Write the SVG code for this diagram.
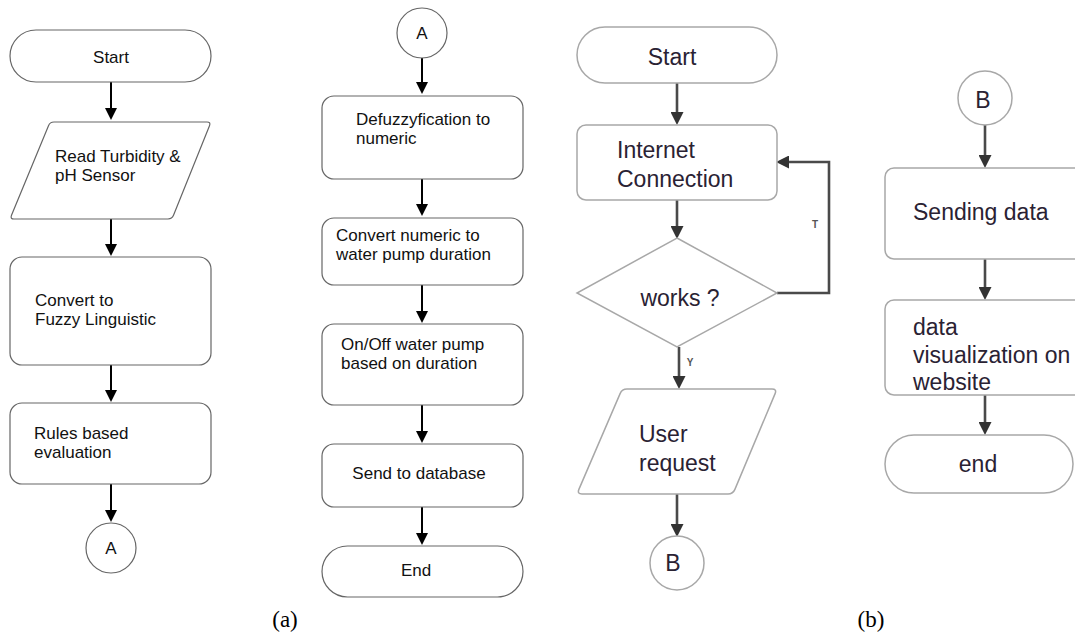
<svg xmlns="http://www.w3.org/2000/svg" width="1075" height="637" viewBox="0 0 1075 637">
<defs>
<style>
.na{fill:#fff;stroke:#666;stroke-width:1.2}
.nb{fill:#fff;stroke:#a8a8a8;stroke-width:1.5}
.ta{font-family:"Liberation Sans",Arial,sans-serif;font-size:17px;fill:#111}
.tb{font-family:"Liberation Sans",Arial,sans-serif;font-size:23px;fill:#2a2233}
.ca{stroke:#000;stroke-width:2;fill:none}
.cb{stroke:#4a4a4a;stroke-width:2.6;fill:none}
.lb{font-family:"Liberation Sans",Arial,sans-serif;font-size:10px;fill:#555;font-weight:bold}
.cap{font-family:"Liberation Serif","Times New Roman",serif;font-size:23px;fill:#000}
</style>
<marker id="ma" markerUnits="userSpaceOnUse" markerWidth="12" markerHeight="12" refX="6" refY="6" orient="auto">
<path d="M0,0 L12,6 L0,12 z" fill="#000"/>
</marker>
<marker id="mb" markerUnits="userSpaceOnUse" markerWidth="13" markerHeight="13" refX="6" refY="6.5" orient="auto">
<path d="M0,0 L13,6.5 L0,13 z" fill="#333"/>
</marker>
</defs>
<rect width="1075" height="637" fill="#fff"/>

<g id="connectors">
<line class="ca" x1="111" y1="82" x2="111" y2="114" marker-end="url(#ma)"/>
<line class="ca" x1="111" y1="219" x2="111" y2="250" marker-end="url(#ma)"/>
<line class="ca" x1="111" y1="365" x2="111" y2="396" marker-end="url(#ma)"/>
<line class="ca" x1="111" y1="484" x2="111" y2="516" marker-end="url(#ma)"/>
<line class="ca" x1="422" y1="57" x2="422" y2="88" marker-end="url(#ma)"/>
<line class="ca" x1="422" y1="179" x2="422" y2="210" marker-end="url(#ma)"/>
<line class="ca" x1="422" y1="285" x2="422" y2="317" marker-end="url(#ma)"/>
<line class="ca" x1="422" y1="405" x2="422" y2="437" marker-end="url(#ma)"/>
<line class="ca" x1="422" y1="507" x2="422" y2="539" marker-end="url(#ma)"/>
<line class="cb" x1="677" y1="83" x2="677" y2="118" marker-end="url(#mb)"/>
<line class="cb" x1="677" y1="200" x2="677" y2="232" marker-end="url(#mb)"/>
<polyline class="cb" points="777,293 829,293 829,162 783,162" marker-end="url(#mb)"/>
<text class="lb" x="815" y="228" text-anchor="middle">T</text>
<line class="cb" x1="679" y1="347" x2="679" y2="382" marker-end="url(#mb)"/>
<text class="lb" x="690" y="366" text-anchor="middle">Y</text>
<line class="cb" x1="677" y1="494" x2="677" y2="530" marker-end="url(#mb)"/>
<line class="cb" x1="985" y1="125" x2="985" y2="161" marker-end="url(#mb)"/>
<line class="cb" x1="985" y1="259" x2="985" y2="293" marker-end="url(#mb)"/>
<line class="cb" x1="985" y1="395" x2="985" y2="428" marker-end="url(#mb)"/>
</g>

<g id="a-start"><rect class="na" x="10" y="30" width="201" height="52" rx="26"/><text class="ta" x="111" y="63" text-anchor="middle">Start</text></g>
<g id="a-read"><path class="na" d="M54,122 L207,122 Q211,122 209.5,125.7 L173.5,215.3 Q172,219 168,219 L14,219 Q10,219 11.5,215.3 L48.5,125.7 Q50,122 54,122 Z"/><text class="ta" x="55" y="162">Read Turbidity &amp;</text><text class="ta" x="55" y="181">pH Sensor</text></g>
<g id="a-convert"><rect class="na" x="10" y="257" width="201" height="108" rx="12"/><text class="ta" x="35" y="306">Convert to</text><text class="ta" x="35" y="325">Fuzzy Linguistic</text></g>
<g id="a-rules"><rect class="na" x="10" y="403" width="201" height="81" rx="12"/><text class="ta" x="34" y="439">Rules based</text><text class="ta" x="34" y="458">evaluation</text></g>
<g id="a-conA"><circle class="na" cx="111" cy="548" r="25"/><text class="ta" x="111" y="554" text-anchor="middle">A</text></g>

<g id="a-conA2"><circle class="na" cx="422" cy="33" r="25"/><text class="ta" x="422" y="39" text-anchor="middle">A</text></g>
<g id="a-defuzz"><rect class="na" x="322" y="96" width="201" height="83" rx="12"/><text class="ta" x="356" y="125">Defuzzyfication to</text><text class="ta" x="356" y="144">numeric</text></g>
<g id="a-convnum"><rect class="na" x="322" y="218" width="201" height="67" rx="12"/><text class="ta" x="336" y="241">Convert numeric to</text><text class="ta" x="336" y="260">water pump duration</text></g>
<g id="a-onoff"><rect class="na" x="322" y="324" width="201" height="81" rx="12"/><text class="ta" x="341" y="350">On/Off water pump</text><text class="ta" x="341" y="369">based on duration</text></g>
<g id="a-send"><rect class="na" x="322" y="444" width="201" height="63" rx="12"/><text class="ta" x="419" y="479" text-anchor="middle">Send to database</text></g>
<g id="a-end"><rect class="na" x="322" y="546" width="201" height="51" rx="25.5"/><text class="ta" x="416" y="576" text-anchor="middle">End</text></g>

<g id="b-start"><rect class="nb" x="577" y="27" width="200" height="56" rx="28"/><text class="tb" x="672" y="65" text-anchor="middle">Start</text></g>
<g id="b-internet"><rect class="nb" x="577" y="125" width="200" height="75" rx="9"/><text class="tb" x="617" y="158">Internet</text><text class="tb" x="617" y="187">Connection</text></g>
<g id="b-works"><path class="nb" d="M677,238 L777,293 L677,347 L577,293 Z"/><text class="tb" x="680" y="306" text-anchor="middle">works ?</text></g>
<g id="b-user"><path class="nb" d="M627,389 L772,389 Q777,389 775.1,393.6 L734.9,489.4 Q733,494 728,494 L582,494 Q577,494 578.9,489.4 L620.1,393.6 Q622,389 627,389 Z"/><text class="tb" x="639" y="442">User</text><text class="tb" x="639" y="471">request</text></g>
<g id="b-conB"><circle class="nb" cx="677" cy="563" r="27"/><text class="tb" x="673" y="571" text-anchor="middle">B</text></g>

<g id="b-conB2"><circle class="nb" cx="985" cy="98" r="27"/><text class="tb" x="983" y="108" text-anchor="middle">B</text></g>
<g id="b-sending"><rect class="nb" x="885" y="168" width="200" height="91" rx="9"/><text class="tb" x="913" y="220">Sending data</text></g>
<g id="b-vis"><rect class="nb" x="885" y="300" width="200" height="95" rx="9"/><text class="tb" x="913" y="335">data</text><text class="tb" x="913" y="363">visualization on</text><text class="tb" x="913" y="390">website</text></g>
<g id="b-end"><rect class="nb" x="885" y="435" width="188" height="58" rx="29"/><text class="tb" x="978" y="472" text-anchor="middle">end</text></g>

<text class="cap" x="285" y="627" text-anchor="middle">(a)</text>
<text class="cap" x="871" y="627" text-anchor="middle">(b)</text>
</svg>
